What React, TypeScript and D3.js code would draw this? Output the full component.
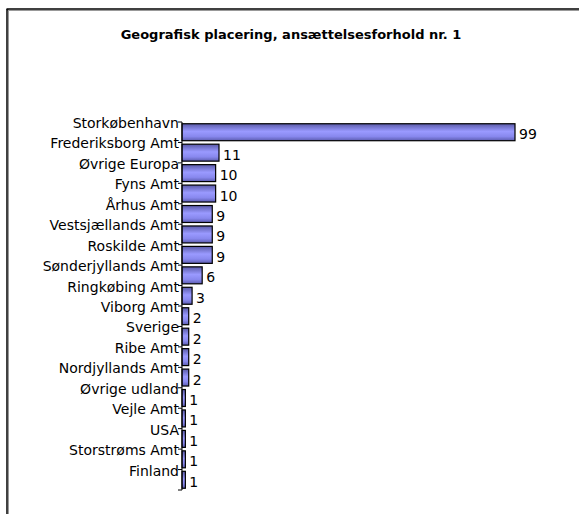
import React from 'react';
import * as d3 from 'd3';

const categories = [
  'Storkøbenhavn', 'Frederiksborg Amt', 'Øvrige Europa', 'Fyns Amt', 'Århus Amt',
  'Vestsjællands Amt', 'Roskilde Amt', 'Sønderjyllands Amt', 'Ringkøbing Amt',
  'Viborg Amt', 'Sverige', 'Ribe Amt', 'Nordjyllands Amt', 'Øvrige udland',
  'Vejle Amt', 'USA', 'Storstrøms Amt', 'Finland',
];
const values = [99, 11, 10, 10, 9, 9, 9, 6, 3, 2, 2, 2, 2, 1, 1, 1, 1, 1];
const title = 'Geografisk placering, ansættelsesforhold nr. 1';

const W = 579;
const H = 514;
const axisX = 182;
const top = 122;
const bottom = 490;

export default function App() {
  const y = d3.scaleBand<string>().domain(categories).range([top, bottom]).paddingInner(0.17).paddingOuter(0.085);
  const yb = d3.scaleBand<string>().domain(categories).range([top, bottom]);
  const x = d3.scaleLinear().domain([0, 99]).range([axisX, 515]);
  const ticks = categories.map((c) => yb(c) as number).concat([bottom]);
  const font = '"DejaVu Sans", sans-serif';

  return (
    <svg width={W} height={H} style={{ position: 'absolute', left: 0, top: 0 }} fontFamily={font}>
      <defs>
        <linearGradient id="barGrad" x1="0" y1="0" x2="0" y2="1">
          <stop offset="0" stopColor="#5a5aa8" />
          <stop offset="0.45" stopColor="#9a9aff" />
          <stop offset="0.75" stopColor="#8888ee" />
          <stop offset="1" stopColor="#5c5cb0" />
        </linearGradient>
      </defs>
      <rect x={0} y={0} width={W} height={H} fill="#fff" />
      <line x1={7} y1={10.5} x2={W} y2={10.5} stroke="#999" strokeWidth={1} />
      <line x1={8.5} y1={9} x2={8.5} y2={H} stroke="#999" strokeWidth={1} />
      <line x1={6.5} y1={9} x2={W} y2={9} stroke="#000" strokeWidth={1.5} />
      <line x1={7} y1={9} x2={7} y2={H} stroke="#000" strokeWidth={1.5} />

      <text x={291} y={34} textAnchor="middle" dominantBaseline="central" fontWeight="bold" fontSize={13}>
        {title}
      </text>

      {categories.map((c, i) => (
        <g key={c}>
          <rect
            x={x(0)}
            y={y(c)}
            width={x(values[i]) - x(0)}
            height={y.bandwidth()}
            fill="url(#barGrad)"
            stroke="#000"
            strokeWidth={1.2}
          />
          <text x={x(values[i]) + 4} y={(y(c) as number) + y.bandwidth() / 2 + 2} dominantBaseline="central" fontSize={14}>
            {values[i]}
          </text>
          <text x={179} y={(yb(c) as number) + 1} textAnchor="end" dominantBaseline="central" fontSize={14}>
            {c}
          </text>
        </g>
      ))}

      <line x1={axisX} y1={top} x2={axisX} y2={bottom} stroke="#000" strokeWidth={1} />
      {ticks.map((t, i) => (
        <line key={i} x1={axisX - 4} y1={t} x2={axisX} y2={t} stroke="#000" strokeWidth={1} />
      ))}
    </svg>
  );
}
